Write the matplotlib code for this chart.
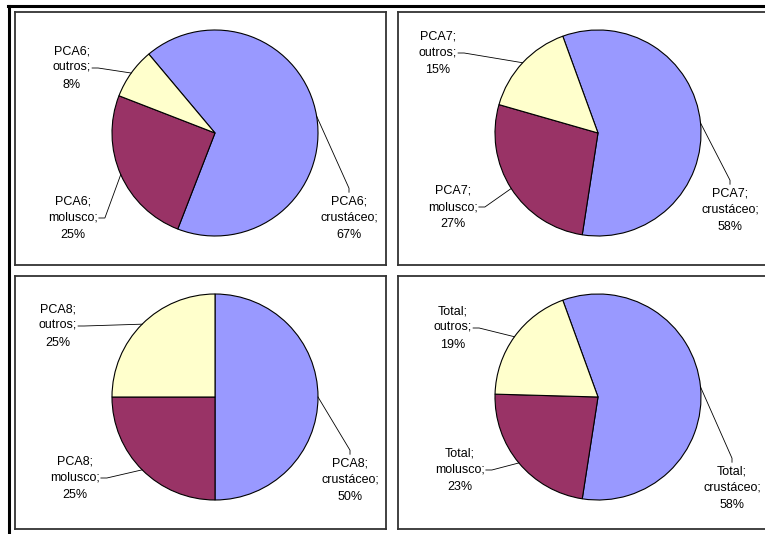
import matplotlib.pyplot as plt
from matplotlib.lines import Line2D
import numpy as np

plt.rcParams['font.family'] = ['Liberation Sans', 'DejaVu Sans']

# dados (% da dieta por ponto de coleta)
categorias = ['crustáceo', 'molusco', 'outros']
pontos = ['PCA6', 'PCA7', 'PCA8', 'Total']
pca6 = [67, 25, 8]
pca7 = [58, 27, 15]
pca8 = [50, 25, 25]
total = [58, 23, 19]
valores = [pca6, pca7, pca8, total]

cores = ['#9999FF', '#993366', '#FFFFCC']
angulo_inicial = [130, 110, 90, 110]

W, H = 765, 534
# caixas de cada grafico em pixels (esq, topo, larg, alt)
caixas = [(15, 12, 371, 253), (398, 12, 371, 253),
          (15, 276, 371, 253), (398, 276, 371, 253)]
centro = (200, 132)
raio = 103
# posicao dos rotulos (crustaceo, molusco, outros) dentro de cada caixa
pos_rotulos = [
    [(334, 47), (58, 47), (57, 197)],
    [(332, 55), (55, 58), (40, 212)],
    [(335, 49), (60, 51), (43, 203)],
    [(334, 41), (62, 59), (55, 201)],
]

fig = plt.figure(figsize=(W / 100, H / 100), dpi=100)
fig.patch.set_facecolor('white')

# moldura externa (tabela)
fig.add_artist(Line2D([9 / W, 9 / W], [0, 1 - 6 / H], transform=fig.transFigure,
                      color='black', lw=2.2))
fig.add_artist(Line2D([8 / W, 1], [1 - 6 / H, 1 - 6 / H], transform=fig.transFigure,
                      color='black', lw=2.2))

eixos = []
for i, (l, t, w, h) in enumerate(caixas):
    ax = fig.add_axes([l / W, 1 - (t + h) / H, w / W, h / H])
    wedges, _ = ax.pie(valores[i], colors=cores, startangle=angulo_inicial[i],
                       counterclock=False, center=centro, radius=raio,
                       wedgeprops=dict(edgecolor='black', linewidth=0.8),
                       frame=True)
    ax.set_xlim(0, w)
    ax.set_ylim(0, h)
    ax.set_aspect('auto')
    ax.set_xticks([])
    ax.set_yticks([])
    for s in ax.spines.values():
        s.set_color('#333333')
        s.set_linewidth(1.3)

    textos = []
    for j, cat in enumerate(categorias):
        x, y = pos_rotulos[i][j]
        txt = ax.text(x, y, f'{pontos[i]};\n{cat};\n{valores[i][j]}%',
                      ha='center', va='center', multialignment='center',
                      fontsize=9, linespacing=1.53)
        textos.append(txt)
    eixos.append((ax, wedges, textos))

fig.canvas.draw()
renderer = fig.canvas.get_renderer()

# linhas de chamada ligando rotulos as fatias
for ax, wedges, textos in eixos:
    inv = ax.transData.inverted()
    for j, (wd, txt) in enumerate(zip(wedges, textos)):
        meio = np.deg2rad((wd.theta1 + wd.theta2) / 2)
        ax_x = centro[0] + raio * np.cos(meio)
        ax_y = centro[1] + raio * np.sin(meio)
        bb = txt.get_window_extent(renderer).transformed(inv)
        tx, ty = txt.get_position()
        if j == 0:
            xs = [tx, tx, ax_x]
            ys = [bb.y1 + 3, bb.y1 + 7, ax_y]
        else:
            xs = [bb.x1 + 1, bb.x1 + 7, ax_x]
            ys = [ty, ty, ax_y]
        ax.plot(xs, ys, color='black', lw=0.6)

fig.savefig('out.png', dpi=100)
